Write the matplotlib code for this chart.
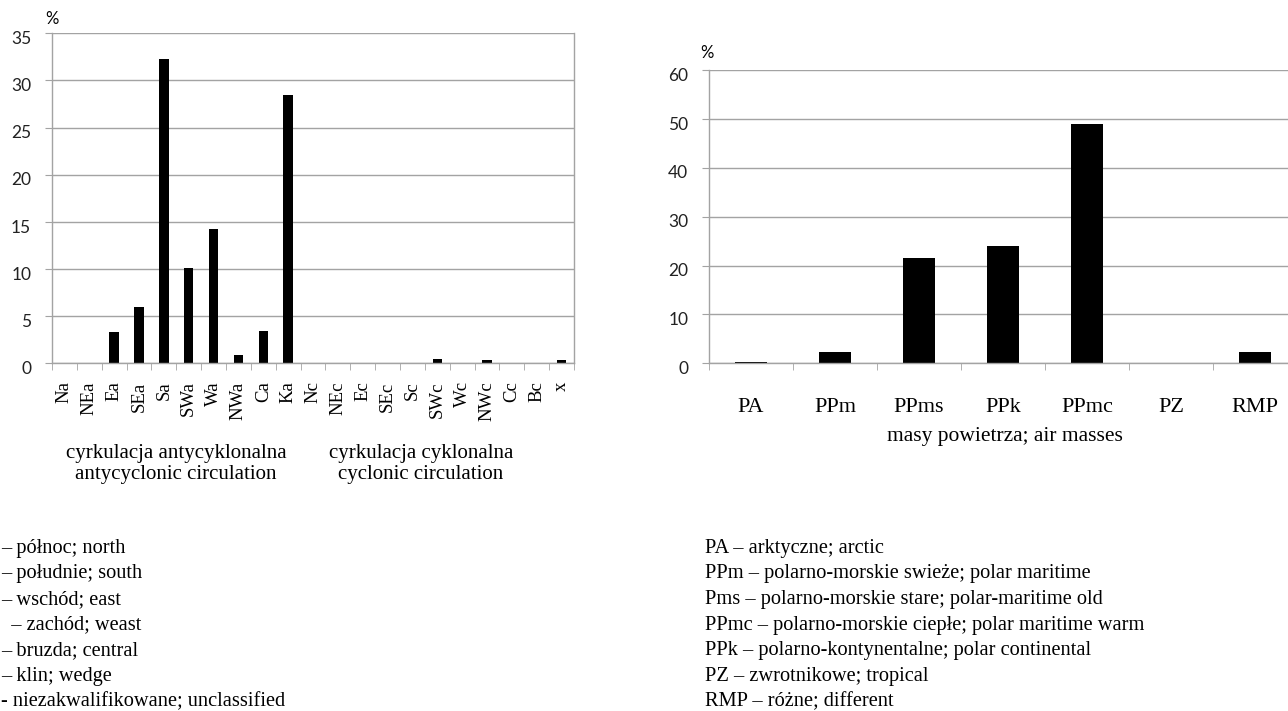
import matplotlib.pyplot as plt
import matplotlib.transforms as mtransforms
import numpy as np

W, H = 1288, 711

# circulation types (left chart), % of days
circ_types = ['Na', 'NEa', 'Ea', 'SEa', 'Sa', 'SWa', 'Wa', 'NWa', 'Ca', 'Ka',
              'Nc', 'NEc', 'Ec', 'SEc', 'Sc', 'SWc', 'Wc', 'NWc', 'Cc', 'Bc', 'x']
circ_pct = [0, 0, 3.3, 6.0, 32.3, 10.1, 14.2, 0.9, 3.4, 28.5,
            0, 0, 0, 0, 0, 0.45, 0, 0.35, 0, 0, 0.35]

# air masses (right chart), % of days
mass_types = ['PA', 'PPm', 'PPms', 'PPk', 'PPmc', 'PZ', 'RMP']
mass_pct = [0.3, 2.25, 21.5, 23.9, 49.0, 0, 2.25]

circ_notes = ['– północ; north',
              '– południe; south',
              '– wschód; east',
              '  – zachód; weast',
              '– bruzda; central',
              '– klin; wedge',
              '- niezakwalifikowane; unclassified']
mass_notes = ['PA – arktyczne; arctic',
              'PPm – polarno-morskie swieże; polar maritime',
              'Pms – polarno-morskie stare; polar-maritime old',
              'PPmc – polarno-morskie ciepłe; polar maritime warm',
              'PPk – polarno-kontynentalne; polar continental',
              'PZ – zwrotnikowe; tropical',
              'RMP – różne; different']

SERIF = 'Liberation Serif'
SANS = 'Lato'
GRID = '#a3a3a3'


def fx(x):
    return x / W


def fy(y):
    return 1 - y / H


def style_axes(ax, n, ymax, ystep):
    ax.set_xlim(-0.5, n - 0.5)
    ax.set_ylim(0, ymax)
    ax.set_yticks(np.arange(0, ymax + 1, ystep))
    ax.yaxis.grid(True, color=GRID, lw=1.0)
    ax.set_axisbelow(True)
    for s in ax.spines.values():
        s.set_color(GRID)
        s.set_linewidth(1.0)
    ax.tick_params(axis='y', length=5, color=GRID, pad=10, labelsize=12.5,
                   labelcolor='#222222')
    # Excel puts the value labels a little below their gridline
    shift = mtransforms.ScaledTranslation(0, -3 / 72, fig.dpi_scale_trans)
    for t in ax.get_yticklabels():
        t.set_fontfamily(SANS)
        t.set_transform(t.get_transform() + shift)
    # category boundaries as ticks, labels at centres
    ax.set_xticks(np.arange(-0.5, n), minor=True)
    ax.tick_params(axis='x', which='minor', length=5, color=GRID)
    ax.tick_params(axis='x', which='major', length=0)


fig = plt.figure(figsize=(W / 100, H / 100), dpi=100)

# left chart
ax1 = fig.add_axes([fx(52), fy(363.3), fx(574 - 52), (363.3 - 33.3) / H])
x1 = np.arange(len(circ_types))
ax1.bar(x1, circ_pct, width=0.38, color='black')
style_axes(ax1, len(circ_types), 35, 5)
ax1.set_xticks(x1)
ax1.set_xticklabels(circ_types, rotation=90, fontfamily=SERIF, fontsize=13.5,
                    va='top', ha='center')
ax1.tick_params(axis='x', which='major', pad=13)
ax1.spines['top'].set_visible(False)
fig.text(fx(52), fy(19.5), '%', ha='center', va='center', fontsize=12,
         fontfamily=SANS)

# right chart (cut off at the right edge as in the source)
ax2 = fig.add_axes([fx(709), fy(363.3), fx(1297 - 709), (363.3 - 70) / H])
x2 = np.arange(len(mass_types))
ax2.bar(x2, mass_pct, width=0.39, color='black')
style_axes(ax2, len(mass_types), 60, 10)
ax2.set_xticks(x2)
ax2.set_xticklabels(mass_types, fontfamily=SERIF, fontsize=16)
ax2.tick_params(axis='x', which='major', pad=25)
ax2.spines['top'].set_visible(False)
ax2.spines['right'].set_visible(False)
fig.text(fx(707), fy(53), '%', ha='center', va='center', fontsize=12,
         fontfamily=SANS)

# axis titles
fig.text(fx(176), fy(464), 'cyrkulacja antycyklonalna\nantycyclonic circulation',
         ha='center', va='center', fontsize=15, fontfamily=SERIF,
         linespacing=1.1, multialignment='center')
fig.text(fx(421), fy(464), 'cyrkulacja cyklonalna\ncyclonic circulation',
         ha='center', va='center', fontsize=15, fontfamily=SERIF,
         linespacing=1.1, multialignment='center')
fig.text(fx(1005), fy(437), 'masy powietrza; air masses', ha='center',
         va='center', fontsize=15.5, fontfamily=SERIF)

# explanations below the charts
for i, s in enumerate(circ_notes):
    fig.text(fx(1), fy(548 + 25.7 * i), s, ha='left', va='center',
             fontsize=14.7, fontfamily=SERIF)
for i, s in enumerate(mass_notes):
    fig.text(fx(705), fy(548 + 25.7 * i), s, ha='left', va='center',
             fontsize=14.7, fontfamily=SERIF)

fig.savefig('out.png', dpi=100, facecolor='white')
